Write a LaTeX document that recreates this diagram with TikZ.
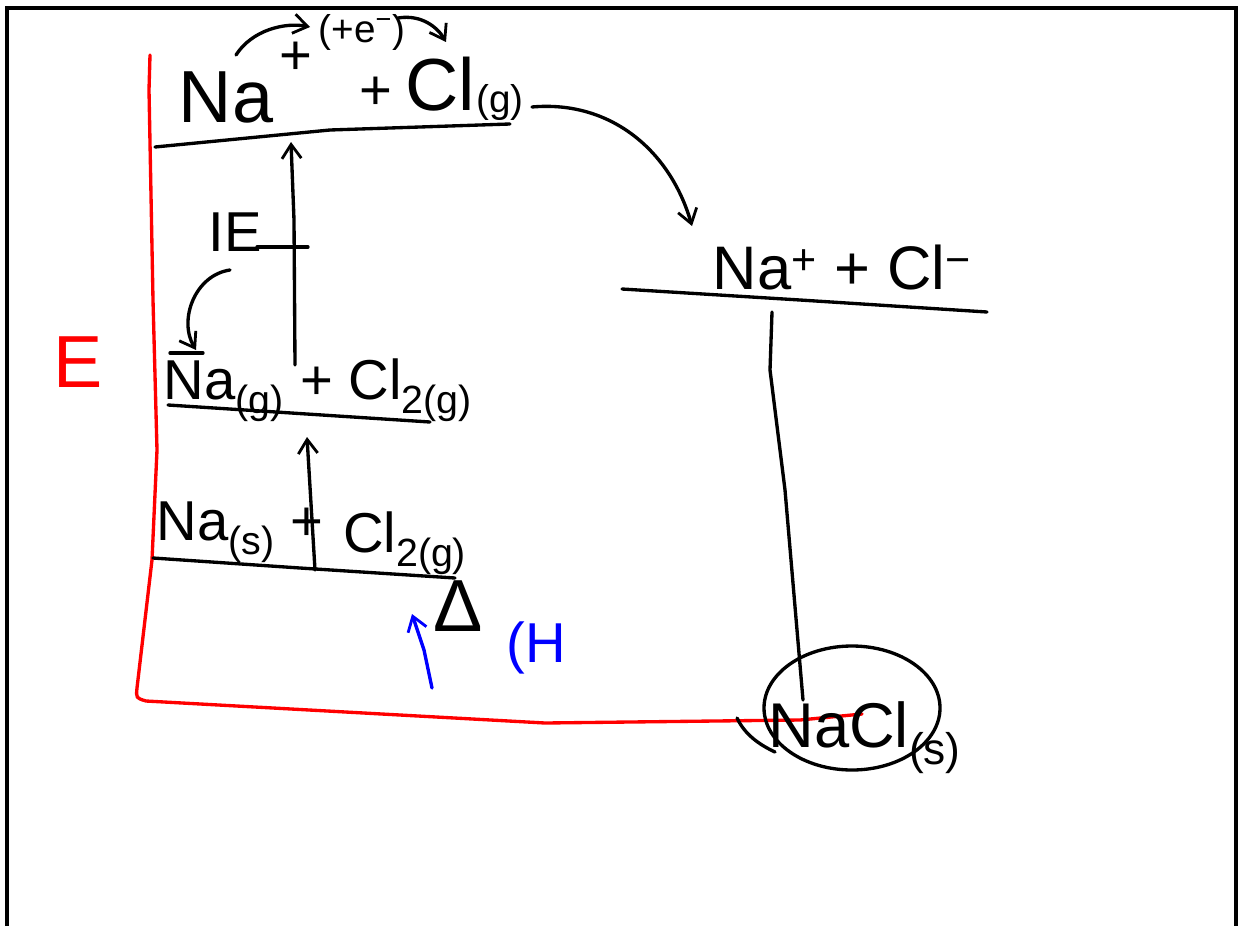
\documentclass[tikz,border=0pt]{standalone}
\usepackage{fontspec}
\setmainfont{Liberation Sans}
\usetikzlibrary{arrows.meta}
\tikzset{
  pen/.style={line width=1.9pt, line cap=round, line join=round},
  redpen/.style={pen, red},
  bluepen/.style={pen, blue},
  level/.style={pen},
  tip/.style={-{Straight Barb[length=8pt,width=11pt,line width=1.6pt]}},
  big/.style={inner sep=0pt, font=\fontsize{42}{46}\selectfont},
  mid/.style={inner sep=0pt, font=\fontsize{32}{36}\selectfont},
  sml/.style={inner sep=0pt, font=\fontsize{22}{26}\selectfont},
}
\begin{document}
\begin{tikzpicture}[x=0.02cm, y=-0.02cm]
\useasboundingbox (0,0) rectangle (1239,926);
% frame
\draw[line width=1.8pt] (7,926) -- (7,8) -- (1236,8) -- (1236,926);

% red energy axis
\draw[redpen] (150,55) -- (149,90) -- (153,300) -- (157,450) -- (152,560) -- (137,688)
  .. controls (136,698) .. (146,701) -- (545,723) -- (800,720) -- (862,714);
\node[big, red] (E) at (78,362) {E};

% levels
\coordinate (Lt1) at (155,147); \coordinate (Lt2) at (510,124);
\coordinate (Lg1) at (168,405); \coordinate (Lg2) at (430,422);
\coordinate (Ls1) at (153,558); \coordinate (Ls2) at (455,578);
\coordinate (Li1) at (622,289); \coordinate (Li2) at (987,312);
\draw[level] (Lt1) -- (330,130) -- (Lt2);
\draw[level] (Lg1) -- (Lg2);
\draw[level] (Ls1) -- (300,568) -- (Ls2);
\draw[level] (Li1) -- (800,300) -- (Li2);

% top row
\node[big] (topNa) at (226,97) {Na};
\node[mid] (topPlusSup) at (296,58) {+};
\node[mid] (topPlus) at (376,93) {+};
\node[big] (topCl) at (440,84) {Cl};
\node[sml] (topG) at (500,103) {(g)};
\node[sml] (elec) at (362,32) {(+e\textsuperscript{−})};
\coordinate (a1s) at (236,55); \coordinate (a1e) at (310,27);
\coordinate (a2s) at (398,18); \coordinate (a2e) at (446,42);
\draw[pen, tip] (a1s) .. controls (252,30) and (285,22) .. (a1e);
\draw[pen, tip] (a2s) .. controls (422,14) and (438,28) .. (a2e);

% IE step
\node[mid] (IE) at (235,232) {IE};
\draw[pen] (257,247) -- (308,247);
\coordinate (ieS) at (295,365); \coordinate (ieE) at (291,142);
\draw[pen, tip] (ieS) -- (294,220) -- (ieE);
\coordinate (cS) at (230,270); \coordinate (cE) at (196,350);
\draw[pen, tip] (cS) .. controls (195,275) and (178,320) .. (cE);

% Na(g) row
\draw[pen] (170,353) -- (203,353);
\node[mid] (ngRow) at (318,390) {Na\textsubscript{(g)} + Cl\textsubscript{2(g)}};

% atomisation arrow
\coordinate (atS) at (315,570); \coordinate (atE) at (307,437);
\draw[pen, tip] (atS) -- (atE);

% Na(s) row
\node[mid] (nsNa) at (240,532) {Na\textsubscript{(s)} +};
\node[mid] (nsCl) at (405,543) {Cl\textsubscript{2(g)}};
\node[big] (delta) at (458,606) {Δ};
\node[mid, blue] (hf) at (536,648) {(H};
\coordinate (bS) at (432,688); \coordinate (bE) at (412,614);
\draw[bluepen, tip] (bS) -- (424,650) -- (bE);

% curve to ions
\coordinate (rS) at (532,107); \coordinate (rE) at (692,226);
\draw[pen, tip] (rS) .. controls (610,100) and (670,150) .. (rE);

% ions
\node[font=\fontsize{35}{40}\selectfont, inner sep=0pt] (ionRow) at (842,268) {Na\textsuperscript{+} + Cl\textsuperscript{−}};

% NaCl(s)
\node[font=\fontsize{36}{40}\selectfont, inner sep=0pt] (nacl) at (865,738) {NaCl\textsubscript{(s)}};
\draw[pen] (852,708) ellipse[x radius=88, y radius=62];
\draw[pen] (737,718) .. controls (745,735) and (760,745) .. (775,752);
\coordinate (vS) at (772,312); \coordinate (vE) at (803,700);
\draw[pen] (vS) -- (770,370) -- (785,490) -- (vE);
\end{tikzpicture}
\end{document}
